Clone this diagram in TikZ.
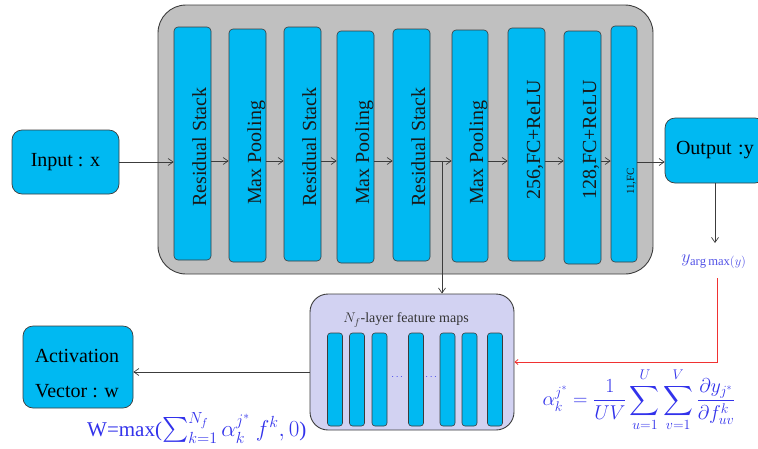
\RequirePackage{fix-cm}
\documentclass[tikz,border=0pt]{standalone}
\usepackage{amsmath}
\usepackage{fontspec}
\setmainfont{Liberation Serif}
\usetikzlibrary{arrows.meta}

\definecolor{barblue}{RGB}{0,185,242}
\definecolor{panelgray}{RGB}{192,192,192}
\definecolor{lav}{RGB}{210,210,242}
\definecolor{linegray}{RGB}{60,60,60}
\definecolor{mathblue}{RGB}{50,50,235}
\definecolor{labelblue}{RGB}{80,80,230}
\definecolor{redline}{RGB}{240,50,50}

\tikzset{
  panel/.style={draw=linegray, line width=0.9pt, fill=panelgray, rounded corners=28pt, inner sep=0pt},
  layerbar/.style={draw=linegray, line width=0.6pt, fill=barblue, rounded corners=4pt, inner sep=0pt},
  ioBox/.style={draw=linegray, line width=0.7pt, fill=barblue, rounded corners=10pt, inner sep=0pt,
    font=\fontsize{20}{24}\selectfont},
  barlabel/.style={rotate=90, anchor=base west, inner sep=0pt, text=black!90,
    font=\fontsize{20}{24}\selectfont},
  fmbox/.style={draw=linegray, line width=0.9pt, fill=lav, rounded corners=18pt, inner sep=0pt},
  fmbar/.style={draw=linegray, line width=0.6pt, fill=barblue, rounded corners=3pt, inner sep=0pt,
    minimum width=15pt, minimum height=93pt},
  arr/.style={draw=linegray, line width=0.7pt, -{Straight Barb[length=5pt,width=7pt]}},
  redarr/.style={draw=redline, line width=0.8pt, -{Straight Barb[length=3pt,width=5pt]}},
}

\begin{document}
\begin{tikzpicture}[x=1pt, y=-1pt]
\useasboundingbox (0,0) rectangle (758,448);

% network panel
\node[panel, minimum width=495pt, minimum height=269pt] (net) at (405.5,139.5) {};

% layers
\node[layerbar, minimum width=37pt, minimum height=233pt] (b1) at (192.5,143.5) {};
\node[layerbar, minimum width=37pt, minimum height=233pt] (b2) at (247.5,145.5) {};
\node[layerbar, minimum width=37pt, minimum height=234pt] (b3) at (302.5,144) {};
\node[layerbar, minimum width=37pt, minimum height=232pt] (b4) at (355.5,147) {};
\node[layerbar, minimum width=37pt, minimum height=232pt] (b5) at (411.5,145) {};
\node[layerbar, minimum width=36pt, minimum height=232pt] (b6) at (470,146) {};
\node[layerbar, minimum width=37pt, minimum height=233pt] (b7) at (526.5,144.5) {};
\node[layerbar, minimum width=37pt, minimum height=233pt] (b8) at (582.5,147.5) {};
\node[layerbar, minimum width=26pt, minimum height=236pt] (b9) at (624,144) {};

\node[barlabel] (t1) at (206,207) {Residual Stack};
\node[barlabel] (t2) at (261,205) {Max Pooling};
\node[barlabel] (t3) at (316,207) {Residual Stack};
\node[barlabel] (t4) at (369,205) {Max Pooling};
\node[barlabel] (t5) at (425,207) {Residual Stack};
\node[barlabel] (t6) at (483,205) {Max Pooling};
\node[barlabel] (t7) at (540,200) {256,FC+ReLU};
\node[barlabel] (t8) at (596,200) {128,FC+ReLU};
\node[barlabel, font=\fontsize{11}{13}\selectfont] (t9) at (634,195) {11,FC};

% input / output
\node[ioBox, minimum width=107pt, minimum height=64pt] (in) at (65.5,162) {Input : x};
\node[ioBox, minimum width=100pt, minimum height=65pt, text width=90pt, align=left] (out) at (715,150.5) {\hspace*{6pt}Output :y};

% feature maps
\node[fmbox, minimum width=204pt, minimum height=136pt] (fm) at (412,362) {};
\node[text=black!80, font=\fontsize{14}{16}\selectfont] (fmt) at (406,320) {$N_f$-layer feature maps};
\node[fmbar] (f1) at (335,379.5) {};
\node[fmbar] (f2) at (357,379.5) {};
\node[fmbar] (f3) at (379.5,379.5) {};
\node[fmbar] (f4) at (416,379.5) {};
\node[fmbar] (f5) at (447.5,379.5) {};
\node[fmbar] (f6) at (469.5,379.5) {};
\node[fmbar] (f7) at (495,379.5) {};
\node[text=mathblue, font=\fontsize{10}{12}\selectfont] (d1) at (398,377) {$\cdots$};
\node[text=mathblue, font=\fontsize{10}{12}\selectfont] (d2) at (432,377) {$\cdots$};

% activation vector
\node[ioBox, minimum width=110pt, minimum height=82pt] (act) at (78,367) {};
\node[font=\fontsize{20}{24}\selectfont, align=center] (actt) at (77,374) {Activation\\[11pt]Vector : w};

% forward connections
\coordinate (row) at (0,161);
\draw[arr] (in.east |- 0,162) -- (b1.west |- 0,162);
\draw[arr] (b1.east |- row) -- (b2.west |- row);
\draw[arr] (b2.east |- row) -- (b3.west |- row);
\draw[arr] (b3.east |- row) -- (b4.west |- row);
\draw[arr] (b4.east |- row) -- (b5.west |- row);
\draw[arr] (b5.east |- row) -- (b6.west |- row);
\draw[arr] (b6.east |- row) -- (b7.west |- row);
\draw[arr] (b7.east |- row) -- (b8.west |- row);
\draw[arr] (b8.east |- row) -- (b9.west |- row);
\draw[arr] (b9.east |- 0,162) -- (out.west |- 0,162);

% branch to feature maps
\coordinate (br) at (442,161);
\draw[arr] (br) -- (br |- fm.north);

% output score
\coordinate (ytip) at (715,243);
\draw[arr] (out.south -| ytip) -- (ytip);
\node[text=labelblue, font=\fontsize{18}{20}\selectfont] (yarg) at (714,262) {$y_{\arg\max(y)}$};

% gradient path
\coordinate (redtop) at (717,278);
\coordinate (redcorner) at (717,362);
\draw[redarr] (redtop) -- (redcorner) -- (redcorner -| fm.east);

% feature maps to activation vector
\coordinate (fmo) at (0,372);
\draw[arr] (fm.west |- fmo) -- (act.east |- fmo);

% formulas
\node[anchor=west, text=mathblue, font=\fontsize{21}{25}\selectfont, inner sep=0pt] (wf) at (87,428)
  {W=max({\fontsize{23}{27}\selectfont$\sum_{k=1}^{N_f}\alpha_k^{j^*}\ f^k,0$})};
\node[text=mathblue, font=\fontsize{20}{24}\selectfont, inner sep=0pt] (af) at (639,400)
  {$\displaystyle \alpha_k^{j^*}=\frac{1}{UV}\sum_{u=1}^{U}\sum_{v=1}^{V}\frac{\partial y_{j^*}}{\partial f_{uv}^{k}}$};
\end{tikzpicture}
\end{document}
